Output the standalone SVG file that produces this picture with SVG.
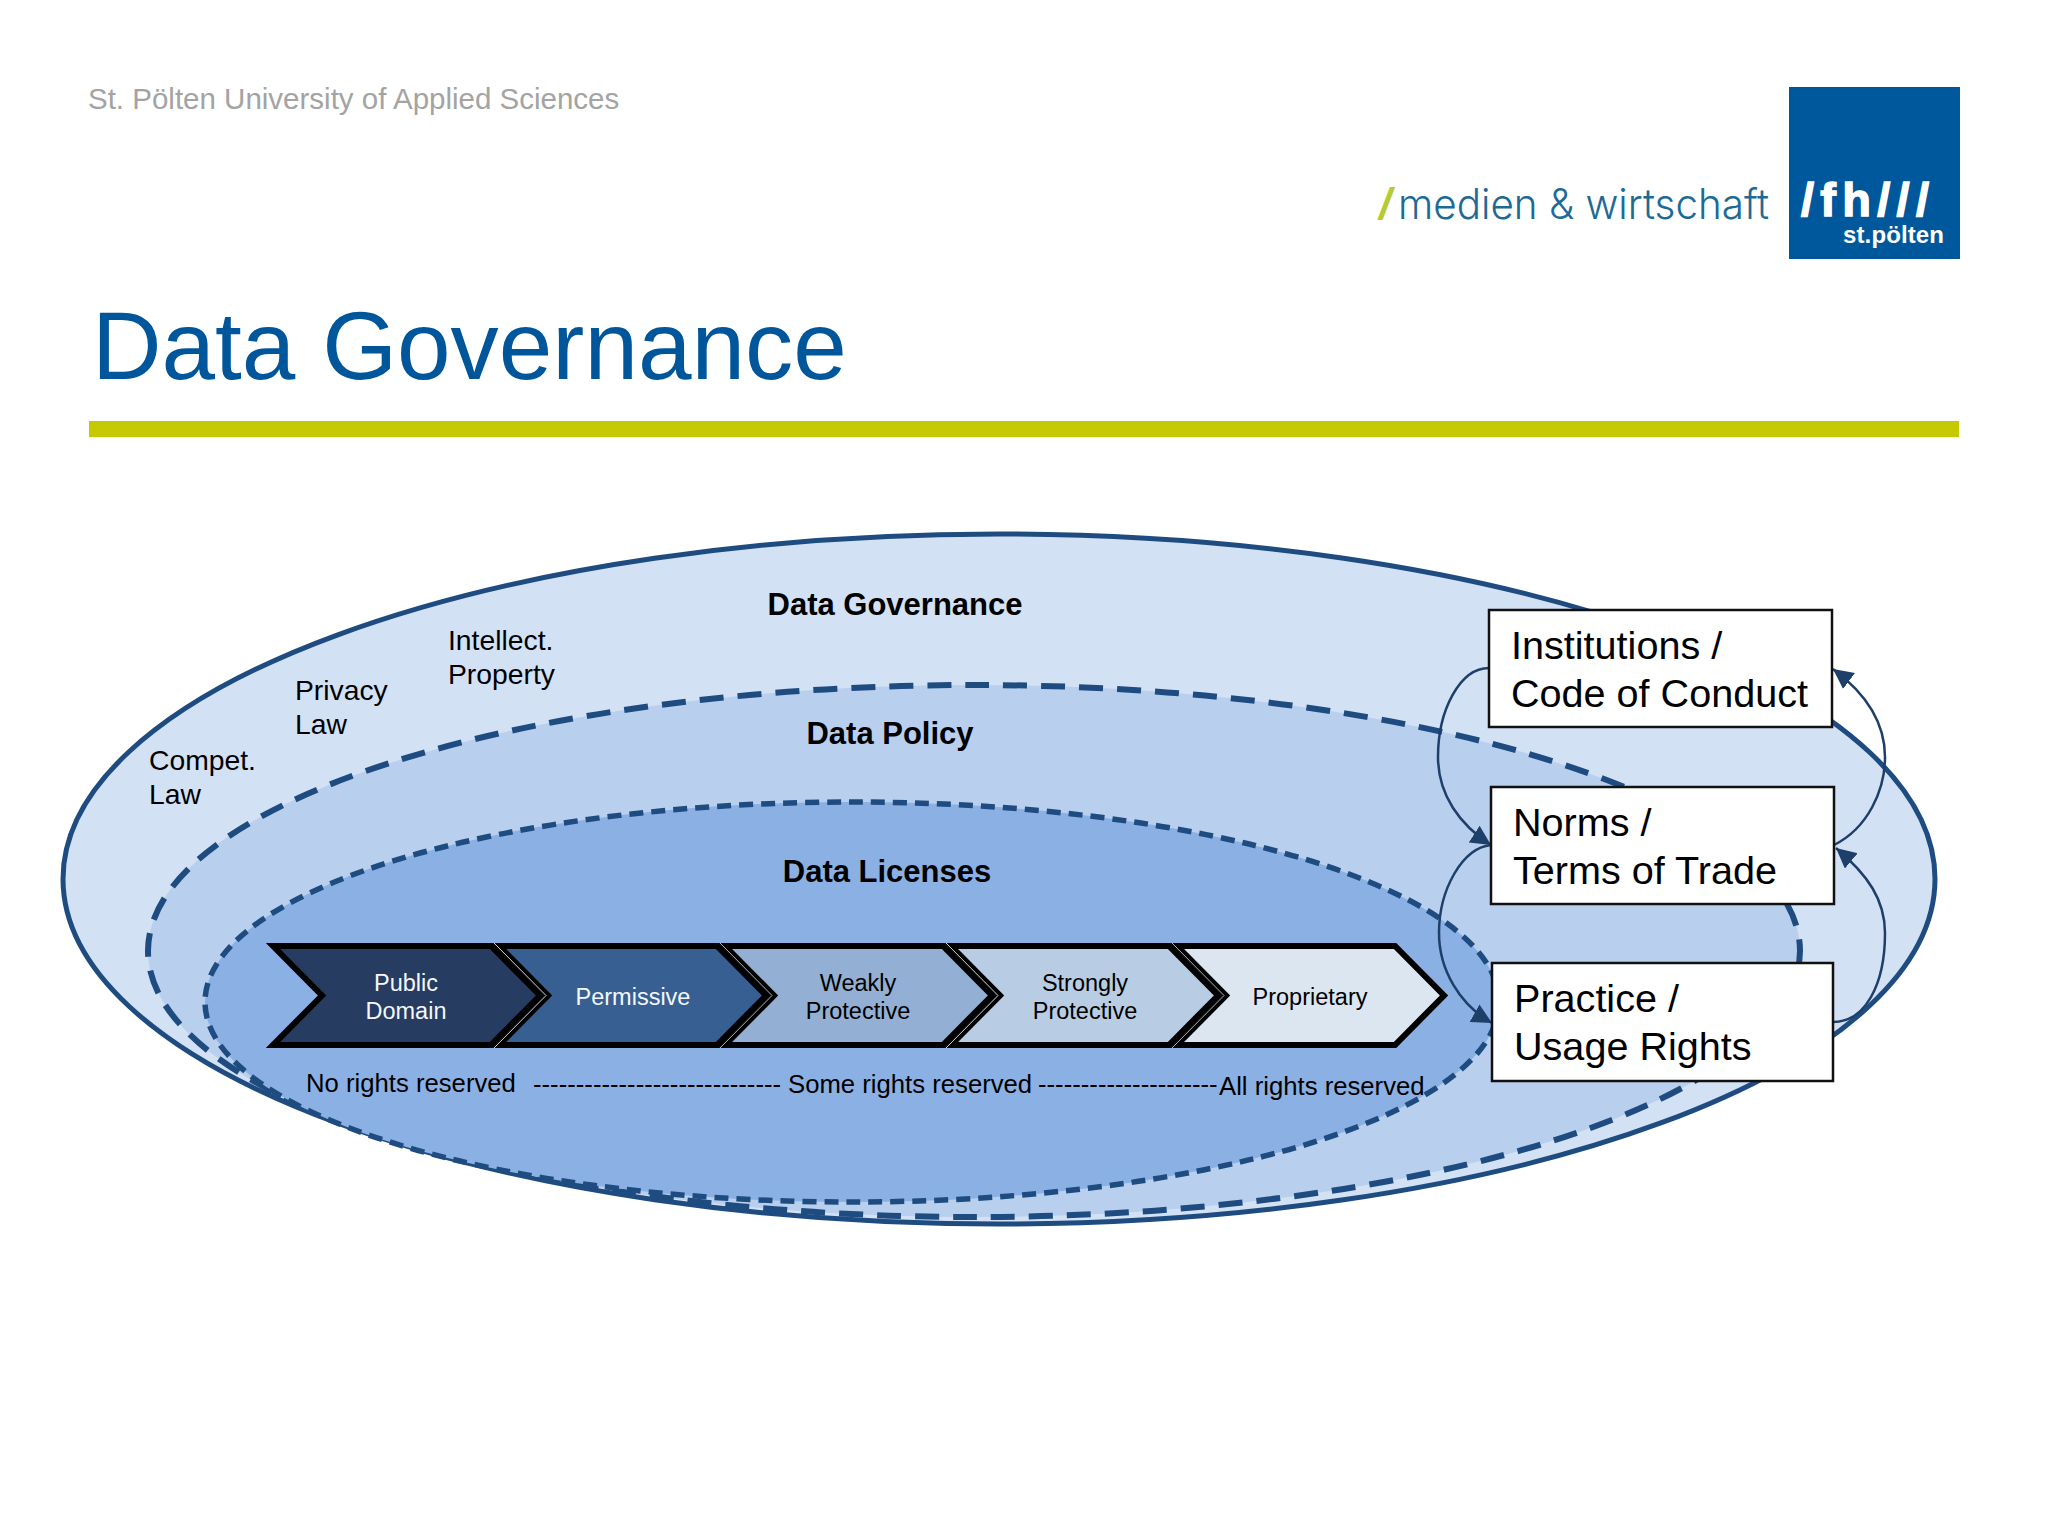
<svg xmlns="http://www.w3.org/2000/svg" width="2048" height="1536" viewBox="0 0 2048 1536">
<style>
text{font-family:"Liberation Sans",Arial,sans-serif;fill:#000}
.head{font-weight:bold;font-size:31px;text-anchor:middle}
.law{font-size:28.3px}
.box{fill:#fff;stroke:#111;stroke-width:2.5}
.btx{font-size:39.6px}
.chev{stroke:#000;stroke-width:6;stroke-miterlimit:10}
.gap{fill:none;stroke:#c9d7ec;stroke-width:1}
.ctx{font-size:23.5px;text-anchor:middle}
.w{fill:#f4f7fb}
.rights{font-size:25.7px}
.ell{stroke:#1f4c80}
.arc{fill:none;stroke:#1f3f6b;stroke-width:2.5;marker-end:url(#ah)}
</style>
<defs>
<marker id="ah" markerUnits="userSpaceOnUse" markerWidth="22" markerHeight="22" refX="20" refY="10" orient="auto"><path d="M0,0 L20,10 L0,20 z" fill="#1f3f6b"/></marker>
<path id="chv" d="M273,946 H491 L540,995.5 L491,1045 H273 L322,995.5 Z"/>
<path id="gp" d="M494,943 L546,995.5 L494,1048"/>
</defs>
<rect width="2048" height="1536" fill="#fff"/>
<g id="header">
<text x="88" y="109" font-size="29.5px" style="fill:#a3a3a3">St. Pölten University of Applied Sciences</text>
<text x="92" y="379" font-size="96.3px" style="fill:#00569a">Data Governance</text>
<rect x="89" y="421" width="1870" height="16" fill="#c4c900"/>
</g>
<g id="logo">
<rect x="1789" y="87" width="171" height="172" fill="#00589c"/>
<text x="1379" y="219" font-size="44px" font-weight="bold" font-style="italic" style="fill:#b5cb2f">/</text>
<text x="1398" y="219" font-size="42px" textLength="371" lengthAdjust="spacingAndGlyphs" style="fill:#1d6a96;font-family:Inter,'Liberation Sans',sans-serif;font-weight:300">medien &amp; wirtschaft</text>
<text x="1801" y="216" font-size="47px" font-weight="bold" textLength="128" style="fill:#fff;stroke:#fff;stroke-width:1.4">/fh///</text>
<text x="1843" y="243" font-size="24px" font-weight="bold" textLength="101" style="fill:#fff">st.pölten</text>
</g>
<g id="ellipses">
<ellipse id="data-governance" class="ell" cx="999" cy="879" rx="936" ry="345" fill="#d3e1f5" stroke-width="5"/>
<ellipse id="data-policy" class="ell" cx="974" cy="951" rx="826" ry="266" fill="#b8cfed" stroke-width="6" stroke-dasharray="24 14"/>
<ellipse id="data-licenses" class="ell" cx="852" cy="1002" rx="647" ry="200" fill="#8bb0e3" stroke-width="5.5" stroke-dasharray="14 8"/>
</g>
<g id="labels">
<text class="head" x="895" y="615">Data Governance</text>
<text class="head" x="890" y="744">Data Policy</text>
<text class="head" x="887" y="882">Data Licenses</text>
<text class="law" x="448" y="650">Intellect.</text>
<text class="law" x="448" y="684">Property</text>
<text class="law" x="295" y="700">Privacy</text>
<text class="law" x="295" y="734">Law</text>
<text class="law" x="149" y="770">Compet.</text>
<text class="law" x="149" y="804">Law</text>
</g>
<g id="chevron-public-domain">
<use href="#chv" class="chev" fill="#263c60"/>
<text class="ctx w" x="406" y="991">Public</text><text class="ctx w" x="406" y="1019">Domain</text>
</g>
<g id="chevron-permissive" transform="translate(226 0)">
<use href="#chv" class="chev" fill="#375f92"/>
<text class="ctx w" x="407" y="1005">Permissive</text>
</g>
<g id="chevron-weakly-protective" transform="translate(452 0)">
<use href="#chv" class="chev" fill="#93afd3"/>
<text class="ctx" x="406" y="991">Weakly</text><text class="ctx" x="406" y="1019">Protective</text>
</g>
<g id="chevron-strongly-protective" transform="translate(678 0)">
<use href="#chv" class="chev" fill="#b8cce4"/>
<text class="ctx" x="407" y="991">Strongly</text><text class="ctx" x="407" y="1019">Protective</text>
</g>
<g id="chevron-proprietary" transform="translate(904 0)">
<use href="#chv" class="chev" fill="#dce6f1"/>
<text class="ctx" x="406" y="1005">Proprietary</text>
</g>
<g id="chevron-gaps">
<use href="#gp" class="gap"/>
<use href="#gp" class="gap" transform="translate(226 0)" style="stroke:#a9b3c1"/>
<use href="#gp" class="gap" transform="translate(452 0)"/>
<use href="#gp" class="gap" transform="translate(678 0)" style="stroke:#a9b3c1"/>
</g>
<g id="rights">
<text class="rights" x="306" y="1092">No rights reserved</text>
<text class="rights" x="533" y="1093">-----------------------------</text>
<text class="rights" x="788" y="1093">Some rights reserved</text>
<text class="rights" x="1038" y="1093">---------------------</text>
<text class="rights" x="1219" y="1095">All rights reserved</text>
</g>
<g id="connectors">
<path class="arc" d="M1489,668 C1460,668 1438,710 1438,757 C1438,795 1460,825 1491,845"/>
<path class="arc" d="M1491,845 C1462,848 1439,890 1439,933 C1439,970 1460,1005 1492,1023"/>
<path class="arc" d="M1834,845 C1868,828 1885,790 1885,757 C1885,725 1868,695 1833,669"/>
<path class="arc" d="M1833,1022 C1865,1022 1885,985 1885,933 C1885,900 1868,875 1836,848"/>
</g>
<g id="node-institutions"><rect class="box" x="1489" y="610" width="343" height="117"/>
<text class="btx" x="1511" y="659">Institutions /</text><text class="btx" x="1511" y="707">Code of Conduct</text></g>
<g id="node-norms"><rect class="box" x="1491" y="787" width="343" height="117"/>
<text class="btx" x="1513" y="836">Norms /</text><text class="btx" x="1513" y="884">Terms of Trade</text></g>
<g id="node-practice"><rect class="box" x="1492" y="963" width="341" height="118"/>
<text class="btx" x="1514" y="1012">Practice /</text><text class="btx" x="1514" y="1060">Usage Rights</text></g>
</svg>
